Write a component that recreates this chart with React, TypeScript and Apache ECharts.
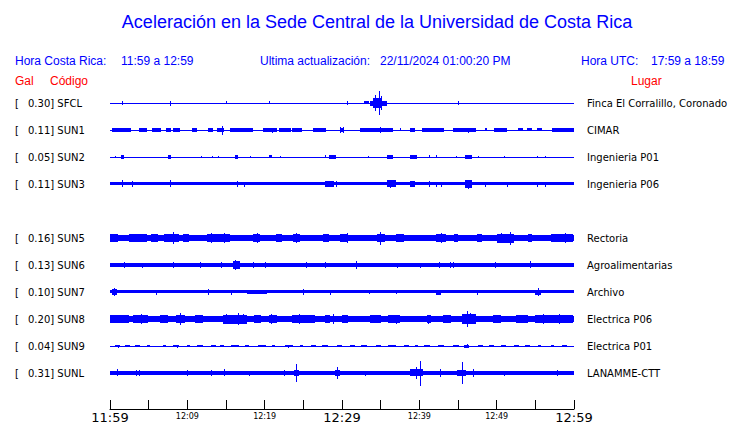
import React, { useEffect, useRef } from "react";
import * as echarts from "echarts";

// ---- data ----
const codes = ["SFCL", "SUN1", "SUN2", "SUN3", "SUN5", "SUN6", "SUN7", "SUN8", "SUN9", "SUNL"];
const peakGal = ["0.30", "0.11", "0.05", "0.11", "0.16", "0.13", "0.10", "0.20", "0.04", "0.31"];
const places = [
  "Finca El Corralillo, Coronado",
  "CIMAR",
  "Ingenieria P01",
  "Ingenieria P06",
  "Rectoria",
  "Agroalimentarias",
  "Archivo",
  "Electrica P06",
  "Electrica P01",
  "LANAMME-CTT",
];
// time axis: minutes after 11:59
const tickLabels: Record<number, string> = {
  0: "11:59", 10: "12:09", 20: "12:19", 30: "12:29", 40: "12:39", 50: "12:49", 60: "12:59",
};
const majorTicks = [0, 30, 60];

// background noise half-amplitude per station (Gal)
const baseGal = [0.005, 0.008, 0.006, 0.042, 0.08, 0.05, 0.04, 0.07, 0.005, 0.05];

// bursts: [startMin, endMin, halfAmpGal]
const sfclBursts = [[32.9, 33.5, 0.04], [33.6, 35.8, 0.06], [34.0, 35.2, 0.12]];
const sfclSpikes = [[1.6, 0.05], [7.7, 0.06], [15.0, 0.04], [20.6, 0.04], [30.6, 0.05], [34.3, 0.2], [34.8, 0.3], [35.1, 0.18], [45.0, 0.05]];

const sun1Bursts = [
  [0.2, 2.6, 0.045], [3.7, 4.7, 0.045], [5.4, 6.5, 0.045], [7.2, 7.8, 0.045], [8.2, 9.1, 0.045],
  [10.6, 11.2, 0.045], [12.7, 13.4, 0.045], [13.8, 14.7, 0.05], [15.5, 18.5, 0.045], [19.8, 21.6, 0.045],
  [21.8, 23.3, 0.05], [23.5, 24.8, 0.045], [26.3, 28.0, 0.045], [29.7, 30.2, 0.045], [32.3, 33.6, 0.045],
  [33.6, 36.6, 0.05], [38.8, 39.4, 0.045], [40.3, 43.1, 0.045], [44.4, 47.4, 0.05], [48.5, 48.7, 0.04],
  [49.6, 51.3, 0.045], [52.8, 53.4, 0.04], [53.9, 54.6, 0.04], [55.2, 55.8, 0.04], [57.1, 59.9, 0.045],
];
const sun1Spikes = [[14.5, 0.11], [21.0, 0.06], [22.6, 0.05], [29.8, 0.07], [30.1, 0.07], [34.9, 0.08], [37.5, 0.04], [39.3, 0.05], [46.3, 0.06]];

const sun2Bursts = [
  [1.4, 1.8, 0.05], [7.5, 7.9, 0.05], [16.2, 16.6, 0.05], [20.6, 21.0, 0.04], [28.3, 29.2, 0.055],
  [35.8, 36.6, 0.05], [38.8, 39.7, 0.05], [45.9, 46.8, 0.05],
];
const sun2Spikes = [
  [0.6, 0.03], [11.8, 0.03], [13.2, 0.03], [14.0, 0.03], [18.1, 0.03], [22.0, 0.03], [27.8, 0.04],
  [33.4, 0.03], [41.2, 0.04], [42.2, 0.04], [44.8, 0.03], [47.6, 0.03], [50.9, 0.03], [55.2, 0.03], [56.3, 0.03],
];

const sun3Bursts = [[27.8, 29.0, 0.08], [35.8, 36.9, 0.09], [38.8, 39.4, 0.08], [45.9, 46.8, 0.1]];
const sun3Spikes = [
  [1.6, 0.09], [2.9, 0.07], [7.7, 0.09], [16.4, 0.07], [17.3, 0.06], [29.2, 0.07], [36.2, 0.1],
  [41.2, 0.08], [42.2, 0.06], [42.8, 0.06], [46.3, 0.11], [48.5, 0.06], [51.3, 0.06], [55.2, 0.06], [56.3, 0.06],
];

const sun5Bursts = [
  [0, 1.0, 0.1], [2.4, 4.7, 0.1], [5.3, 6.2, 0.095], [7.0, 9.0, 0.1], [9.5, 10.3, 0.095], [12.5, 15.5, 0.1],
  [18.5, 19.4, 0.1], [21.5, 22.3, 0.095], [23.7, 24.6, 0.1], [27.5, 28.3, 0.095], [29.8, 30.8, 0.095],
  [34.5, 35.5, 0.1], [37.0, 38.0, 0.095], [42.2, 43.5, 0.1], [44.5, 45.0, 0.095], [47.5, 48.2, 0.095],
  [50.0, 52.2, 0.11], [54.0, 54.5, 0.095], [57.0, 59.9, 0.1],
];
const sun5Spikes = [
  [8.2, 0.15], [13.0, 0.13], [14.8, 0.13], [19.0, 0.13], [24.0, 0.12], [30.6, 0.13], [34.9, 0.16],
  [42.8, 0.13], [50.5, 0.13], [51.7, 0.16], [58.8, 0.13],
];

const sun6Bursts = [[15.9, 16.8, 0.1]];
const sun6Spikes = [
  [1.8, 0.07], [4.1, 0.06], [8.1, 0.07], [11.6, 0.07], [14.4, 0.08], [16.1, 0.13], [18.5, 0.07], [20.1, 0.07],
  [25.4, 0.08], [27.8, 0.07], [31.8, 0.1], [37.1, 0.06], [40.1, 0.06], [42.5, 0.07], [44.0, 0.07], [44.4, 0.07],
  [49.8, 0.07], [54.3, 0.09],
];

const sun7Bursts = [[0.2, 0.9, 0.07], [17.7, 20.3, 0.055], [42.2, 42.9, 0.06], [55.0, 55.8, 0.06]];
const sun7Spikes = [
  [0.5, 0.1], [6.0, 0.06], [12.7, 0.07], [15.7, 0.06], [25.0, 0.07], [28.4, 0.06], [33.5, 0.055],
  [37.0, 0.055], [47.5, 0.06], [55.4, 0.1],
];

const sun8Bursts = [
  [0, 2.5, 0.1], [3.0, 5.0, 0.1], [6.5, 7.5, 0.1], [8.5, 9.6, 0.1], [11.0, 12.0, 0.1], [14.6, 17.7, 0.11],
  [18.6, 19.5, 0.1], [20.5, 21.5, 0.1], [23.5, 26.5, 0.1], [27.8, 28.5, 0.1], [30.0, 30.8, 0.1],
  [33.6, 35.0, 0.1], [36.0, 37.5, 0.1], [41.0, 41.5, 0.1], [43.0, 44.0, 0.1], [45.5, 47.3, 0.12],
  [49.5, 50.5, 0.1], [52.5, 54.0, 0.1], [55.0, 59.9, 0.1],
];
const sun8Spikes = [
  [4.0, 0.12], [9.1, 0.15], [15.0, 0.12], [16.5, 0.15], [17.2, 0.13], [20.8, 0.12], [24.5, 0.12],
  [28.8, 0.12], [37.0, 0.11], [41.1, 0.11], [46.1, 0.2], [46.6, 0.14], [56.0, 0.12], [58.0, 0.12],
];

const sun9Bursts = [
  [0.7, 1.3, 0.03], [2.0, 2.6, 0.03], [3.2, 3.8, 0.03], [4.8, 5.2, 0.03], [6.8, 7.2, 0.03], [8.2, 9.0, 0.03],
  [10.0, 10.4, 0.03], [11.2, 12.0, 0.03], [13.0, 13.6, 0.03], [14.2, 14.7, 0.03], [15.6, 16.6, 0.03],
  [17.5, 18.0, 0.03], [19.2, 20.2, 0.03], [21.0, 21.4, 0.03], [22.6, 23.6, 0.03], [24.6, 25.0, 0.03],
  [26.0, 26.6, 0.03], [27.4, 28.2, 0.03], [29.4, 30.0, 0.03], [31.0, 31.6, 0.03], [32.4, 33.2, 0.03],
  [34.4, 35.0, 0.03], [36.0, 37.0, 0.03], [38.0, 38.6, 0.03], [39.4, 39.8, 0.03], [40.6, 41.4, 0.03],
  [42.4, 43.2, 0.03], [44.4, 45.2, 0.03], [45.8, 46.4, 0.035], [47.6, 48.2, 0.03], [49.0, 49.6, 0.03],
  [50.6, 51.2, 0.03], [52.2, 52.8, 0.03], [53.6, 54.2, 0.03], [55.4, 55.8, 0.03], [57.0, 57.4, 0.03],
  [58.4, 59.0, 0.03],
];
const sun9Spikes = [[1.0, 0.035], [8.6, 0.035], [23.0, 0.035], [46.1, 0.045]];

const sunlBursts = [[23.8, 24.4, 0.08], [29.1, 29.7, 0.08], [38.8, 40.5, 0.09], [44.9, 46.0, 0.08]];
const sunlSpikes = [
  [0.9, 0.09], [3.4, 0.08], [3.8, 0.07], [10.0, 0.07], [13.1, 0.08], [14.8, 0.09], [18.0, 0.06],
  [22.5, 0.07], [24.1, 0.22], [29.4, 0.15], [33.0, 0.06], [39.6, 0.15], [40.1, 0.31], [42.7, 0.1],
  [45.5, 0.27], [47.0, 0.1], [51.0, 0.06], [57.8, 0.07],
];

const burstsByStation = [sfclBursts, sun1Bursts, sun2Bursts, sun3Bursts, sun5Bursts, sun6Bursts, sun7Bursts, sun8Bursts, sun9Bursts, sunlBursts];
const spikesByStation = [sfclSpikes, sun1Spikes, sun2Spikes, sun3Spikes, sun5Spikes, sun6Spikes, sun7Spikes, sun8Spikes, sun9Spikes, sunlSpikes];

// ---- layout ----
const W = 740;
const H = 423;
const ROW = 0.675; // Gal between traces
const GRID = { left: 110, right: 166, top: 76, bottom: 14 };
const PX_PER_GAL = 40;
const slotOf = (i: number) => (i < 4 ? i : i + 1); // empty slot after SUN3
const BLUE = "#0000ff";
const RED = "#ff0000";

export default function App() {
  const ref = useRef<HTMLDivElement>(null);
  useEffect(() => {
    if (!ref.current) return;
    document.body.style.margin = "0";
    const chart = echarts.init(ref.current, undefined, { renderer: "svg" });

    const series = codes.map((code, i) => {
      const slot = slotOf(i);
      const items: number[][] = [[0, 60, baseGal[i], slot]];
      burstsByStation[i].forEach((b) => items.push([b[0], b[1], b[2], slot]));
      spikesByStation[i].forEach((s) => items.push([s[0], s[0], s[1], slot]));
      return {
        type: "custom",
        name: code,
        silent: true,
        clip: false,
        encode: { x: [0, 1], y: 2 },
        data: items,
        renderItem: (params: any, api: any) => {
          const t0 = api.value(0);
          const t1 = api.value(1);
          const a = api.value(2);
          const s = api.value(3);
          const off = -s * ROW;
          const p0 = api.coord([t0, off + a]);
          const p1 = api.coord([t1, off - a]);
          const x = Math.round(p0[0]);
          const w = Math.max(1, Math.round(p1[0] - p0[0]));
          const y = Math.round(p0[1]);
          const h = Math.max(1, Math.round(p1[1] - p0[1]));
          return { type: "rect", shape: { x, y, width: w, height: h }, style: { fill: BLUE } };
        },
      };
    });

    const rowY = (i: number) => GRID.top + ROW * PX_PER_GAL + slotOf(i) * ROW * PX_PER_GAL;
    const hdr = (text: string, x: number, y: number, fill: string) => ({
      type: "text", x, y,
      style: { text, fill, font: "12px 'Liberation Sans'", textVerticalAlign: "middle" },
    });
    const graphics: any[] = [
      {
        type: "text", x: 377, y: 22,
        style: { text: "Aceleración en la Sede Central de la Universidad de Costa Rica", fill: BLUE, font: "18px 'Liberation Sans'", textAlign: "center", textVerticalAlign: "middle" },
      },
      hdr("Hora Costa Rica:", 15, 61, BLUE),
      hdr("11:59 a 12:59", 121, 61, BLUE),
      hdr("Ultima actualización:", 260, 61, BLUE),
      hdr("22/11/2024 01:00:20 PM", 380, 61, BLUE),
      hdr("Hora UTC:", 581, 61, BLUE),
      hdr("17:59 a 18:59", 651, 61, BLUE),
      hdr("Gal", 15, 81, RED),
      hdr("Código", 50, 81, RED),
      hdr("Lugar", 631, 81, RED),
    ];
    codes.forEach((code, i) => {
      const y = rowY(i);
      const lab = (text: string, x: number) => ({
        type: "text", x, y,
        style: { text, fill: "#000", font: "10px 'DejaVu Sans'", textVerticalAlign: "middle" },
      });
      graphics.push(lab("[", 15));
      graphics.push(lab(`${peakGal[i]}] ${code}`, 28));
      graphics.push(lab(places[i], 587));
    });

    const yMax = ROW;
    const yMin = yMax - (H - GRID.bottom - GRID.top) / PX_PER_GAL;

    chart.setOption({
      animation: false,
      backgroundColor: "#ffffff",
      grid: { ...GRID, containLabel: false, outerBoundsMode: "none" },
      xAxis: {
        type: "value",
        min: 0,
        max: 60,
        interval: 5,
        splitLine: { show: false },
        axisLine: { show: true, onZero: false, lineStyle: { color: "#000", width: 1 } },
        axisTick: { show: true, inside: true, length: 9, lineStyle: { color: "#000", width: 1 } },
        axisLabel: {
          margin: 2,
          showMinLabel: true,
          showMaxLabel: true,
          hideOverlap: false,
          formatter: (v: number) => {
            const t = tickLabels[Math.round(v)];
            if (!t) return "";
            return majorTicks.includes(Math.round(v)) ? `{big|${t}}` : `{small|${t}}`;
          },
          rich: {
            big: { fontFamily: "DejaVu Sans", fontSize: 13, color: "#000", lineHeight: 12 },
            small: { fontFamily: "DejaVu Sans", fontSize: 8, color: "#000", lineHeight: 10 },
          },
        },
      },
      yAxis: { type: "value", show: false, min: yMin, max: yMax, splitLine: { show: false } },
      graphic: graphics,
      series,
    });
    return () => chart.dispose();
  }, []);
  return <div ref={ref} style={{ width: W, height: H, position: "fixed", left: 0, top: 0 }} />;
}
